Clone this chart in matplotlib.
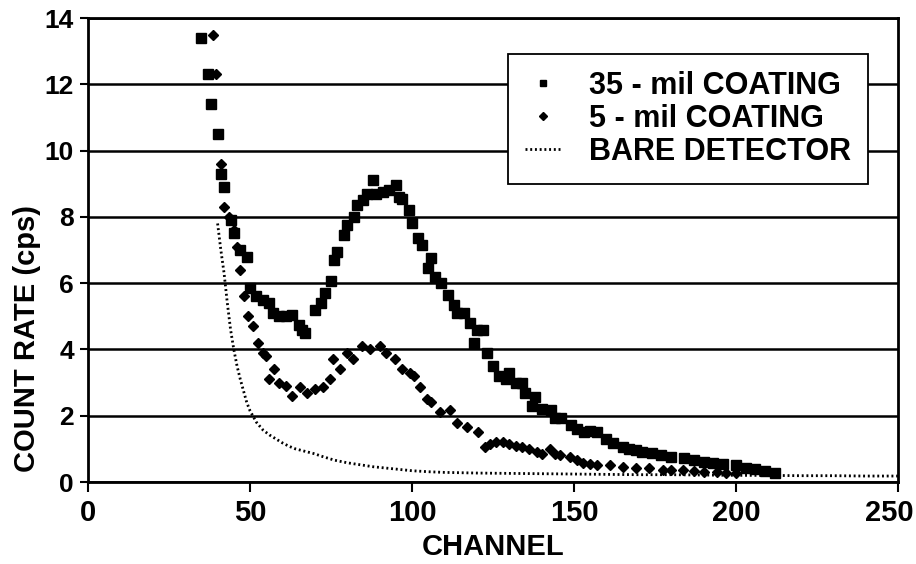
import matplotlib.pyplot as plt
from matplotlib.lines import Line2D
from matplotlib.transforms import ScaledTranslation

plt.rcParams['font.family'] = ['Liberation Sans', 'DejaVu Sans']
plt.rcParams['font.weight'] = 'bold'

# 35-mil coating (squares)
ch_35 = [35, 37, 38, 40, 41, 42, 44, 45, 47, 49, 50, 52, 54, 56, 57, 59, 61, 63,
         65, 66, 67, 70, 72, 73, 75, 76, 77, 79, 80, 82, 83, 85, 86, 88, 89, 91,
         93, 95, 96, 97, 99, 100, 102, 103, 105, 106, 107, 109, 111, 113, 114,
         116, 118, 119, 120, 122, 123, 125, 127, 129, 130, 132, 134, 135, 137,
         138, 140, 143, 144, 146, 149, 151, 153, 155, 157, 160, 162, 165, 167,
         169, 171, 174, 177, 180, 184, 187, 190, 193, 196, 200, 203, 206, 209, 212]
cps_35 = [13.4, 12.3, 11.4, 10.5, 9.3, 8.9, 7.9, 7.5, 7.0, 6.8, 5.85, 5.6, 5.5, 5.4,
          5.1, 5.0, 5.0, 5.05, 4.75, 4.6, 4.5, 5.2, 5.4, 5.7, 6.05, 6.7, 6.95, 7.45,
          7.75, 8.0, 8.35, 8.5, 8.7, 9.1, 8.7, 8.75, 8.8, 8.95, 8.6, 8.55, 8.2, 7.8,
          7.35, 7.15, 6.45, 6.75, 6.2, 6.0, 5.65, 5.35, 5.1, 5.1, 4.8, 4.2, 4.6, 4.6,
          3.9, 3.5, 3.2, 3.1, 3.3, 3.0, 3.0, 2.7, 2.3, 2.57, 2.2, 2.17, 1.93, 1.93,
          1.72, 1.6, 1.5, 1.55, 1.5, 1.3, 1.18, 1.06, 1.0, 0.97, 0.9, 0.87, 0.81,
          0.75, 0.72, 0.66, 0.6, 0.57, 0.55, 0.51, 0.42, 0.38, 0.33, 0.27]

# 5-mil coating (diamonds)
ch_5 = [38.5, 39.5, 41, 42, 43.5, 45, 46, 47, 48, 49.5, 51, 52.5, 54, 55, 56, 57.5,
        59, 61, 63, 65.5, 67.5, 70, 72.5, 74.7, 75.6, 77.8, 80, 81.8, 84.5, 87, 90,
        92, 94.6, 97, 99.4, 100.5, 102.4, 104.6, 106, 108.6, 111.7, 113.8, 117,
        120.4, 122.5, 124, 126, 128, 130, 132, 134, 136, 138.5, 140, 142.7, 144,
        145.7, 148.8, 151, 152.8, 155, 157, 161, 165, 169, 173, 177.5, 180, 183.6,
        187, 190, 194, 197, 200]
cps_5 = [13.5, 12.3, 9.6, 8.3, 8.0, 7.6, 7.1, 6.4, 5.6, 5.0, 4.7, 4.2, 3.9, 3.8, 3.1,
         3.4, 3.0, 2.9, 2.6, 2.87, 2.7, 2.8, 2.87, 3.1, 3.7, 3.4, 3.9, 3.7, 4.1, 4.0,
         4.1, 3.9, 3.7, 3.4, 3.3, 3.2, 2.87, 2.5, 2.4, 2.1, 2.17, 1.78, 1.66, 1.5,
         1.06, 1.15, 1.2, 1.2, 1.15, 1.1, 1.06, 1.0, 0.9, 0.85, 1.0, 0.85, 0.8, 0.75,
         0.65, 0.57, 0.55, 0.51, 0.51, 0.45, 0.42, 0.42, 0.36, 0.36, 0.36, 0.33,
         0.3, 0.3, 0.28, 0.27]

# bare detector (dotted)
ch_bare = [40, 41, 42, 43, 44, 45, 46, 47, 48, 49, 50, 52, 54, 56, 58, 60, 62, 64,
           66, 68, 70, 72, 74, 76, 78, 80, 84, 88, 92, 96, 100, 105, 110, 115, 120,
           130, 140, 150, 160, 170, 180, 190, 200, 210, 220, 230, 240, 250]
cps_bare = [7.8, 7.0, 6.3, 5.4, 4.6, 4.0, 3.5, 3.1, 2.75, 2.4, 2.15, 1.8, 1.57, 1.42,
            1.3, 1.18, 1.08, 1.0, 0.95, 0.9, 0.85, 0.78, 0.72, 0.66, 0.62, 0.58,
            0.52, 0.46, 0.42, 0.38, 0.34, 0.31, 0.29, 0.28, 0.27, 0.26, 0.25, 0.24,
            0.23, 0.22, 0.22, 0.21, 0.2, 0.2, 0.19, 0.19, 0.18, 0.18]

labels = ["35 - mil COATING", "5 - mil COATING", "BARE DETECTOR"]

fig = plt.figure(figsize=(9.16, 5.64), dpi=100)
ax = fig.add_axes([88 / 916, 82 / 564, 810 / 916, 464 / 564])

bare_style = (0, (0.7, 1.0))
ax.plot(ch_bare, cps_bare, color='black', lw=2.0, linestyle=bare_style)
ax.plot(ch_5, cps_5, 'D', color='black', markersize=5.5, linestyle='none')
ax.plot(ch_35, cps_35, 's', color='black', markersize=7, linestyle='none')

ax.set_xlim(0, 250)
ax.set_ylim(0, 14)
ax.set_xticks(range(0, 251, 50))
ax.set_yticks(range(0, 15, 2))
ax.yaxis.grid(True, color='black', lw=1.8)
ax.set_axisbelow(True)
for s in ax.spines.values():
    s.set_linewidth(2)
ax.tick_params(axis='both', direction='out', width=1.5)
ax.tick_params(axis='x', length=7, pad=5, labelsize=21)
ax.tick_params(axis='y', length=6, pad=4, labelsize=19)

# nudge the last x tick label so it stays inside the figure
last = ax.get_xticklabels()[-1]
last.set_transform(last.get_transform() + ScaledTranslation(-0.09, 0, fig.dpi_scale_trans))

ax.set_xlabel("CHANNEL", fontsize=21, fontweight='bold')
ax.xaxis.set_label_coords(0.5, -0.11)
ax.set_ylabel("COUNT RATE (cps)", fontsize=21, fontweight='bold')
ax.yaxis.set_label_coords(-0.058, 0.31)

handles = [
    Line2D([], [], marker='s', color='black', markersize=5, linestyle='none'),
    Line2D([], [], marker='D', color='black', markersize=4, linestyle='none'),
    Line2D([], [], color='black', lw=2.0, linestyle=bare_style),
]
leg = ax.legend(handles, labels, loc='upper right', bbox_to_anchor=(0.963, 0.922),
                fontsize=22, frameon=True, fancybox=False, handlelength=1.2,
                handletextpad=0.9, labelspacing=0.1, borderpad=0.55,
                borderaxespad=0)
leg.get_frame().set_edgecolor('black')
leg.get_frame().set_linewidth(1.3)
leg.get_frame().set_alpha(1)

plt.savefig("out.png", dpi=100)
